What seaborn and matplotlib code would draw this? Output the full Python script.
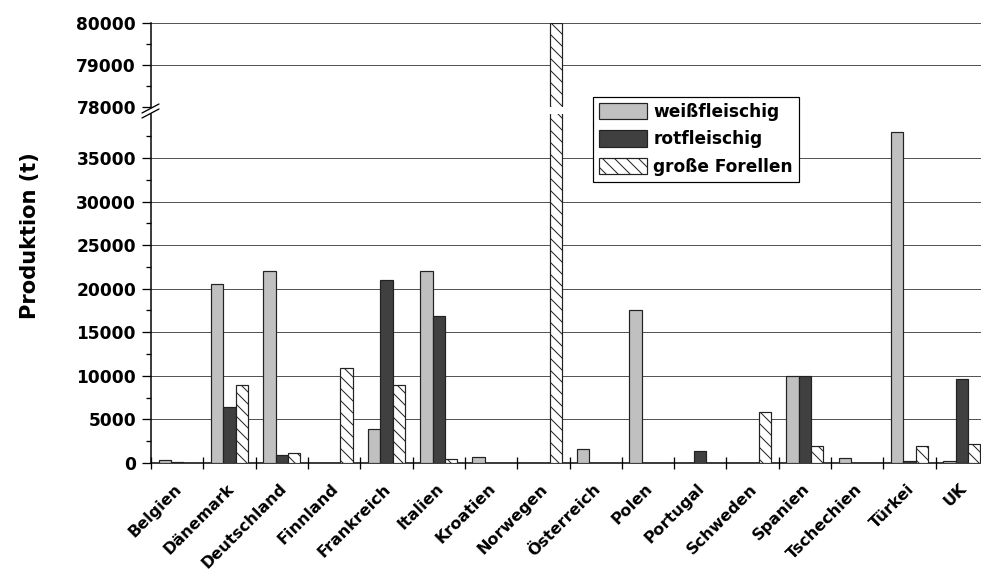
import numpy as np
import pandas as pd
import matplotlib
matplotlib.use('Agg')
import matplotlib.pyplot as plt
import matplotlib.patches as mpatches
import matplotlib.transforms as mtransforms
from matplotlib.lines import Line2D
from matplotlib.ticker import FixedLocator
import seaborn as sns

# Data (t)
countries = ['Belgien', 'Dänemark', 'Deutschland', 'Finnland', 'Frankreich', 'Italien',
             'Kroatien', 'Norwegen', 'Österreich', 'Polen', 'Portugal', 'Schweden',
             'Spanien', 'Tschechien', 'Türkei', 'UK']
series = ['weißfleischig', 'rotfleischig', 'große Forellen']
weiss = [300, 20500, 22000, 0, 3900, 22000, 700, 0, 1600, 17500, 0, 0, 10000, 600, 38000, 250]
rot = [150, 6400, 900, 0, 21000, 16900, 0, 0, 0, 0, 1400, 0, 10000, 0, 200, 9600]
gross = [0, 8900, 1200, 10900, 8900, 500, 0, 80000, 0, 0, 0, 5900, 1900, 0, 1900, 2200]

df = pd.DataFrame({
    'Land': countries * 3,
    'Typ': np.repeat(series, len(countries)),
    'Produktion': weiss + rot + gross,
})

sns.set_style('white')
plt.rcParams['font.family'] = ['DejaVu Sans']
plt.rcParams['font.weight'] = 'bold'
plt.rcParams['hatch.linewidth'] = 1.0
for k in ['text.color', 'axes.labelcolor', 'xtick.color', 'ytick.color']:
    plt.rcParams[k] = 'black'

colors = ['#c0c0c0', '#404040', '#ffffff']
hatches = ['', '', '\\\\']
edge = '#222222'

W, H = 981, 570
fig = plt.figure(figsize=(W / 72, H / 72), dpi=72)
left, width = 151 / W, 837 / W
ax_top = fig.add_axes([left, 1 - 107 / H, width, 84 / H])
ax = fig.add_axes([left, 1 - 463 / H, width, (463 - 114.4) / H])

for a in (ax_top, ax):
    sns.barplot(data=df, x='Land', y='Produktion', hue='Typ', hue_order=series,
                palette=colors, width=0.71, edgecolor=edge, linewidth=1.2,
                saturation=1, legend=False, ax=a, zorder=3)
    for bar in a.containers[2]:
        bar.set_hatch(hatches[2])
    a.set_xlim(-0.5, 15.5)
    a.set_xlabel('')
    a.set_ylabel('')
    for s in ['top', 'right']:
        a.spines[s].set_visible(False)
    a.spines['left'].set_color('black')
    a.spines['left'].set_linewidth(1.5)
    a.tick_params(axis='y', which='major', direction='out', length=9, width=1.3,
                  labelsize=17, pad=6, left=True, color='black')
    a.tick_params(axis='y', which='minor', direction='out', length=5, width=1.3,
                  left=True, color='black')

# upper part of broken axis
ax_top.set_ylim(78000, 80000)
ax_top.set_yticks([78000, 79000, 80000])
ax_top.yaxis.set_minor_locator(FixedLocator([78500, 79500]))
ax_top.spines['bottom'].set_visible(False)
ax_top.set_xticks([])
for v in [79000, 80000]:
    ax_top.axhline(v, color='#555555', lw=1, zorder=0, clip_on=False)

# lower part
ax.set_ylim(0, 40000)
ax.set_yticks(range(0, 35001, 5000))
ax.yaxis.set_minor_locator(FixedLocator(range(2500, 37501, 5000)))
for v in range(5000, 35001, 5000):
    ax.axhline(v, color='#555555', lw=1, zorder=0)
ax.spines['bottom'].set_color('black')
ax.spines['bottom'].set_linewidth(1.5)
ax.set_xticks(range(len(countries)))
ax.set_xticklabels(countries, rotation=45, ha='right', rotation_mode='anchor', fontsize=16)
ax.set_xticks(np.arange(-0.5, len(countries), 1), minor=True)
ax.tick_params(axis='x', which='major', length=0, pad=18)
ax.tick_params(axis='x', which='minor', direction='inout', length=12, width=1.3,
               bottom=True, color='black')
offset = mtransforms.ScaledTranslation(-3 / 72, 0, fig.dpi_scale_trans)
for lbl in ax.get_xticklabels():
    lbl.set_transform(lbl.get_transform() + offset)

# axis break marks
for dy in (0, 5):
    fig.add_artist(Line2D([142 / W, 159 / W], [1 - (113 + dy) / H, 1 - (104 + dy) / H],
                          transform=fig.transFigure, color='black', lw=1.3))

fig.text(30 / W, 1 - 236 / H, 'Produktion (t)', rotation=90, ha='center', va='center',
         fontsize=21, fontweight='bold')

handles = [mpatches.Patch(facecolor=c, edgecolor=edge, hatch=h, linewidth=1.2)
           for c, h in zip(colors, hatches)]
leg = fig.legend(handles, series, loc='upper left', bbox_to_anchor=(593 / W, 1 - 97 / H),
                 frameon=True, fancybox=False, edgecolor='black', framealpha=1,
                 fontsize=17, handlelength=2.8, handleheight=1.1, labelspacing=0.55,
                 handletextpad=0.4, borderpad=0.35, borderaxespad=0)
leg.get_frame().set_linewidth(1.2)

fig.savefig('out.png', dpi=72)
